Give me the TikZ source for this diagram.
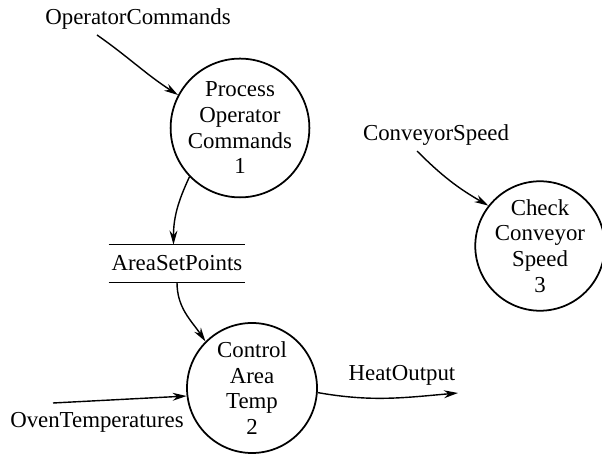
\documentclass[tikz,border=0pt]{standalone}
\usepackage{fontspec}
\setmainfont{Liberation Serif}
\usetikzlibrary{arrows.meta}

\begin{document}
\begin{tikzpicture}[
    font=\fontsize{13}{14.6}\selectfont,
    process/.style={draw, circle, line width=1pt, align=center, inner sep=0pt},
    flow/.style={line width=0.8pt, -{Stealth[length=8pt,width=4.5pt]}},
    store/.style={minimum width=2.72cm, minimum height=0.74cm, inner sep=0pt},
    label/.style={inner sep=0pt}
  ]
  \useasboundingbox (0,0) rectangle (12.04,9.1);

  % Processes
  \node[process, minimum size=2.5cm]  (p1) at (4.80, 6.54) {Process\\Operator\\Commands\\1};
  \node[process, minimum size=2.6cm]  (p2) at (5.04, 1.34) {Control\\Area\\Temp\\2};
  \node[process, minimum size=2.52cm] (p3) at (10.80, 4.18) {Check\\Conveyor\\Speed\\3};

  % Data store
  \node[store] (asp) at (3.54, 3.83) {AreaSetPoints};
  \draw[line width=0.8pt] (asp.north west) -- (asp.north east);
  \draw[line width=0.8pt] (asp.south west) -- (asp.south east);

  % External flows
  \node[label] (opcmd) at (2.76, 8.72) {OperatorCommands};
  \node[label] (convspd) at (8.72, 6.40) {ConveyorSpeed};
  \node[label] (oventemp) at (1.94, 0.66) {OvenTemperatures};
  \node[label] (heatout) at (8.04, 1.60) {HeatOutput};

  \coordinate (ovenin) at (1.06, 1.04);
  \coordinate (heatend) at (9.16, 1.24);

  \draw[flow] ([xshift=-0.82cm,yshift=-3pt]opcmd.south) to[out=-35, in=147] (p1.152);
  \draw[flow] (p1.224) to[out=-115, in=90] ([xshift=-2pt]asp.north);
  \draw[flow] (asp.south) to[out=-90, in=124] (p2.135);
  \draw[flow] (ovenin) -- (p2.187);
  \draw[flow] (p2.-4) to[out=-10, in=185] (heatend);
  \draw[flow] ([xshift=-0.38cm,yshift=-3pt]convspd.south) to[out=-45, in=150] (p3.142);
\end{tikzpicture}
\end{document}
